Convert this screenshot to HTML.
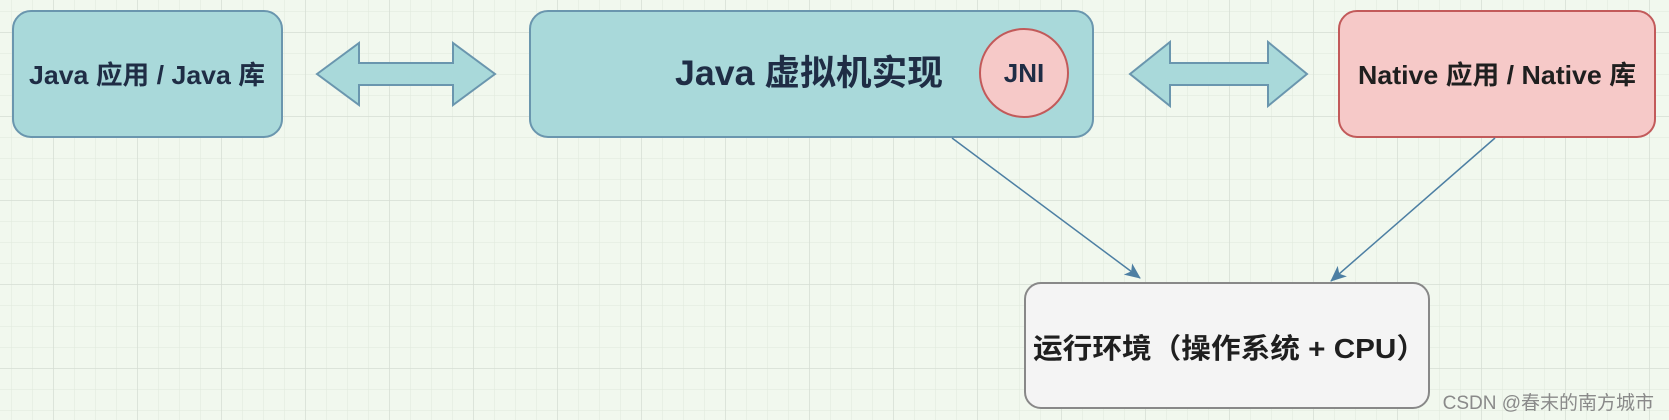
<!DOCTYPE html>
<html><head><meta charset="utf-8"><style>
html,body{margin:0;padding:0;}
body{width:1669px;height:420px;overflow:hidden;background:#f1f8ee;}
svg{display:block}
</style></head><body>
<svg width="1669" height="420" xmlns="http://www.w3.org/2000/svg" font-family="'Liberation Sans','Noto Sans CJK SC',sans-serif">
<defs>
<pattern id="minor" width="21" height="21" patternUnits="userSpaceOnUse" x="12" y="12">
<path d="M21 0V21M0 21H21" stroke="#dfe9dc" stroke-width="1" fill="none"/>
</pattern>
<pattern id="major" width="84" height="84" patternUnits="userSpaceOnUse" x="54" y="33">
<path d="M84 0V84M0 84H84" stroke="#d6ddd3" stroke-width="1.5" fill="none"/>
</pattern>
<marker id="ah" markerWidth="18" markerHeight="18" refX="15" refY="8" orient="auto" markerUnits="userSpaceOnUse">
<path d="M0,1 L16,8 L0,15 L4,8 Z" fill="#4d7fa3"/>
</marker>
</defs>
<rect width="1669" height="420" fill="url(#minor)"/>
<rect width="1669" height="420" fill="url(#major)"/>

<rect x="13" y="11" width="269" height="126" rx="18" fill="#a9d9da" stroke="#6a96ae" stroke-width="2"/>
<text x="147" y="84" text-anchor="middle" font-size="26" font-weight="bold" fill="#1f2d45" textLength="236" lengthAdjust="spacingAndGlyphs">Java 应用 / Java 库</text>

<path d="M317,74 L359,43 L359,63 L453,63 L453,43 L495,74 L453,105 L453,85 L359,85 L359,105 Z" fill="#a9d9da" stroke="#6a96ae" stroke-width="2"/>

<rect x="530" y="11" width="563" height="126" rx="18" fill="#a9d9da" stroke="#6a96ae" stroke-width="2"/>
<text x="809" y="85" text-anchor="middle" font-size="35" font-weight="bold" fill="#1f2d45" textLength="268" lengthAdjust="spacingAndGlyphs">Java 虚拟机实现</text>
<circle cx="1024" cy="73" r="44" fill="#f6c9c8" stroke="#c25a5a" stroke-width="2"/>
<text x="1024" y="82" text-anchor="middle" font-size="26" font-weight="bold" fill="#1f2d45">JNI</text>

<path d="M1130,74 L1170,42 L1170,63 L1268,63 L1268,42 L1307,74 L1268,106 L1268,85 L1170,85 L1170,106 Z" fill="#a9d9da" stroke="#6a96ae" stroke-width="2"/>

<rect x="1339" y="11" width="316" height="126" rx="18" fill="#f6c9c8" stroke="#c25a5a" stroke-width="2"/>
<text x="1497" y="84" text-anchor="middle" font-size="26" font-weight="bold" fill="#1f1f1f" textLength="278" lengthAdjust="spacingAndGlyphs">Native 应用 / Native 库</text>

<line x1="952" y1="138" x2="1140" y2="278" stroke="#4d7fa3" stroke-width="1.5" marker-end="url(#ah)"/>
<line x1="1495" y1="138" x2="1331" y2="281" stroke="#4d7fa3" stroke-width="1.5" marker-end="url(#ah)"/>

<rect x="1025" y="283" width="404" height="125" rx="16" fill="#f4f4f4" stroke="#888" stroke-width="2"/>
<text x="1033" y="358" font-size="28" font-weight="bold" fill="#1f1f1f" textLength="393" lengthAdjust="spacingAndGlyphs">运行环境（操作系统 + CPU）</text>

<text x="1654" y="409" text-anchor="end" font-size="19" fill="#8a8a8a">CSDN @春末的南方城市</text>
</svg>
</body></html>
